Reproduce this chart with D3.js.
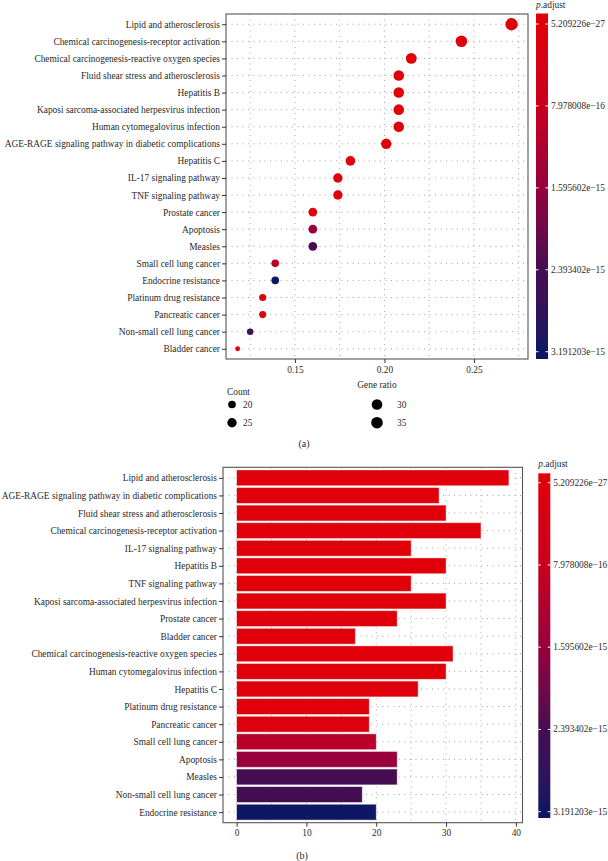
<!DOCTYPE html>
<html>
<head>
<meta charset="utf-8">
<script src="https://cdn.jsdelivr.net/npm/d3@7"></script>
<style>
  html, body { margin: 0; padding: 0; background: #fff; }
  svg { display: block; font-family: "Liberation Serif", "DejaVu Serif", serif; }
</style>
</head>
<body>
<div id="chart"></div>
<script>
// Terms in the bar-plot order (ascending p.adjust)
const terms = [
  "Lipid and atherosclerosis",
  "AGE-RAGE signaling pathway in diabetic complications",
  "Fluid shear stress and atherosclerosis",
  "Chemical carcinogenesis-receptor activation",
  "IL-17 signaling pathway",
  "Hepatitis B",
  "TNF signaling pathway",
  "Kaposi sarcoma-associated herpesvirus infection",
  "Prostate cancer",
  "Bladder cancer",
  "Chemical carcinogenesis-reactive oxygen species",
  "Human cytomegalovirus infection",
  "Hepatitis C",
  "Platinum drug resistance",
  "Pancreatic cancer",
  "Small cell lung cancer",
  "Apoptosis",
  "Measles",
  "Non-small cell lung cancer",
  "Endocrine resistance"
];
const counts = [39, 29, 30, 35, 25, 30, 25, 30, 23, 17, 31, 30, 26, 19, 19, 20, 23, 23, 18, 20];
const geneRatio = [0.271, 0.201, 0.208, 0.243, 0.174, 0.208, 0.174, 0.208, 0.160, 0.118,
                   0.215, 0.208, 0.181, 0.132, 0.132, 0.139, 0.160, 0.160, 0.125, 0.139];
const pAdjust = [5.209226e-27, 2.1e-22, 4.5e-22, 1.2e-21, 3.0e-20, 8.0e-20, 1.5e-19, 3.6e-19,
                 1.1e-18, 2.4e-18, 3.9e-18, 6.2e-18, 1.9e-17, 4.6e-17, 9.3e-17,
                 1.05e-15, 1.53e-15, 2.38e-15, 2.42e-15, 3.191203e-15];

const pTicks      = [5.209226e-27, 7.978008e-16, 1.595602e-15, 2.393402e-15, 3.191203e-15];
const pTickLabels = ["5.209226e\u221227", "7.978008e\u221216", "1.595602e\u221215", "2.393402e\u221215", "3.191203e\u221215"];
const ratioTicks  = [0.15, 0.20, 0.25];
const ratioMinor  = [0.125, 0.175, 0.225, 0.275];
const countTicks  = [0, 10, 20, 30, 40];
const countMinor  = [5, 15, 25, 35];
const sizeLegend  = [20, 25, 30, 35];

const rows = terms.map((t, i) => ({ term: t, count: counts[i], ratio: geneRatio[i], p: pAdjust[i] }));
// dot plot: ordered by gene ratio (stable)
const dotRows = rows.slice().sort((a, b) => d3.descending(a.ratio, b.ratio));

const W = 608, H = 861;
const GRID = "#9a9a9a";
const FRAME = "#555";
const TXT = "#2a2a2a";
const FS = 9.4;

const svg = d3.select("#chart").append("svg")
  .attr("width", W).attr("height", H);

// red -> crimson -> purple -> navy, stops at the colourbar ticks
const color = d3.scaleLinear()
  .domain(pTicks)
  .range(["#e0000a", "#c8001e", "#96003e", "#450d52", "#0d1763"])
  .interpolate(d3.interpolateLab);

// size: ggplot-like area scale (range 3..8 on sqrt of rescaled count)
const cMin = d3.min(counts), cMax = d3.max(counts);
const sizeNorm = d3.scaleLinear().domain([cMin, cMax]).range([0, 1]);
const rScale = d3.scaleLinear().domain([0, 1]).range([2.46, 6.15]);
const radius = v => rScale(Math.sqrt(Math.max(0, sizeNorm(v))));

function styleAxis(a) {
  a.attr("font-family", null).attr("font-size", null);
  a.select(".domain").remove();
  a.selectAll("line").attr("stroke", "#333");
  a.selectAll("text").attr("font-size", FS).attr("fill", TXT);
}

function colorbar(g, x0, top, bottom, tickTop, tickBottom, id) {
  const cy = d3.scaleLinear().domain([pTicks[0], pTicks[4]]).range([tickTop, tickBottom]);
  const grad = svg.append("defs").append("linearGradient")
    .attr("id", id).attr("gradientUnits", "userSpaceOnUse")
    .attr("x1", 0).attr("x2", 0).attr("y1", tickTop).attr("y2", tickBottom);
  d3.range(0, 1.0001, 0.05).forEach(t => {
    grad.append("stop").attr("offset", t)
      .attr("stop-color", color(pTicks[0] + t * (pTicks[4] - pTicks[0])));
  });
  const bw = 12;
  g.append("rect").attr("x", x0).attr("y", top).attr("width", bw).attr("height", bottom - top)
    .attr("fill", `url(#${id})`);
  pTicks.forEach((v, i) => {
    const y = cy(v);
    g.append("line").attr("x1", x0).attr("x2", x0 + 2.5).attr("y1", y).attr("y2", y)
      .attr("stroke", "#fff").attr("stroke-width", 1);
    g.append("line").attr("x1", x0 + bw - 2.5).attr("x2", x0 + bw).attr("y1", y).attr("y2", y)
      .attr("stroke", "#fff").attr("stroke-width", 1);
    g.append("text").attr("x", x0 + bw + 3).attr("y", y + 3)
      .attr("font-size", FS).attr("fill", TXT).text(pTickLabels[i]);
  });
  const title = g.append("text").attr("x", x0).attr("y", top - 6)
    .attr("font-size", FS).attr("fill", TXT);
  title.append("tspan").attr("font-style", "italic").text("p");
  title.append("tspan").text(".adjust");
}

// ── (a) dot plot ─────────────────────────────────────────────
{
  const L = 226, R = 528, T = 14, B = 359;
  const x = d3.scaleLinear().domain([0.1115, 0.2802]).range([L, R]);
  const y = d3.scalePoint().domain(dotRows.map(d => d.term)).range([T, B]).padding(0.6);
  const g = svg.append("g");

  // grid
  ratioTicks.concat(ratioMinor).forEach(v => {
    g.append("line").attr("x1", x(v)).attr("x2", x(v)).attr("y1", T).attr("y2", B)
      .attr("stroke", GRID).attr("stroke-width", 0.9).attr("stroke-dasharray", "1 4.5");
  });
  dotRows.forEach(d => {
    g.append("line").attr("x1", L).attr("x2", R).attr("y1", y(d.term)).attr("y2", y(d.term))
      .attr("stroke", GRID).attr("stroke-width", 0.9).attr("stroke-dasharray", "1 4.5");
  });

  g.selectAll("circle.dot").data(dotRows).join("circle")
    .attr("class", "dot")
    .attr("cx", d => x(d.ratio)).attr("cy", d => y(d.term))
    .attr("r", d => radius(d.count))
    .attr("fill", d => color(d.p));

  g.append("rect").attr("x", L).attr("y", T).attr("width", R - L).attr("height", B - T)
    .attr("fill", "none").attr("stroke", FRAME).attr("stroke-width", 1.1);

  // y axis
  const ya = g.append("g").attr("transform", `translate(${L},0)`)
    .call(d3.axisLeft(y).tickSize(4).tickPadding(2));
  styleAxis(ya);

  // x axis
  const xa = g.append("g").attr("transform", `translate(0,${B})`)
    .call(d3.axisBottom(x).tickValues(ratioTicks).tickFormat(d3.format(".2f")).tickSize(4).tickPadding(3));
  styleAxis(xa);

  g.append("text").attr("x", (L + R) / 2).attr("y", 388).attr("text-anchor", "middle")
    .attr("font-size", FS).attr("fill", TXT).text("Gene ratio");

  colorbar(g, 536, 13.5, 359, 24, 351.7, "gradA");

  // size legend
  g.append("text").attr("x", 227).attr("y", 395).attr("font-size", FS).attr("fill", TXT).text("Count");
  sizeLegend.forEach((v, i) => {
    const col = Math.floor(i / 2), row = i % 2;
    const cx = 232 + col * 145, cy = 404.5 + row * 18.2;
    g.append("circle").attr("cx", cx).attr("cy", cy).attr("r", radius(v)).attr("fill", "#000");
    g.append("text").attr("x", cx + 11 + col * 9).attr("y", cy + 3).attr("font-size", FS)
      .attr("fill", TXT).text(v);
  });

  g.append("text").attr("x", 304).attr("y", 447).attr("text-anchor", "middle")
    .attr("font-size", 10).attr("fill", TXT).text("(a)");
}

// ── (b) bar plot ─────────────────────────────────────────────
{
  const L = 223, R = 522.5, T = 467.3, B = 822.7;
  const x = d3.scaleLinear().domain([-1.95, 40.95]).range([L, R]);
  const y = d3.scalePoint().domain(terms).range([T, B]).padding(0.6);
  const bh = y.step() * 0.9;
  const g = svg.append("g");

  countTicks.concat(countMinor).forEach(v => {
    g.append("line").attr("x1", x(v)).attr("x2", x(v)).attr("y1", T).attr("y2", B)
      .attr("stroke", GRID).attr("stroke-width", 0.9).attr("stroke-dasharray", "1 4.5");
  });
  terms.forEach(t => {
    g.append("line").attr("x1", L).attr("x2", R).attr("y1", y(t)).attr("y2", y(t))
      .attr("stroke", GRID).attr("stroke-width", 0.9).attr("stroke-dasharray", "1 4.5");
  });

  g.selectAll("rect.bar").data(rows).join("rect")
    .attr("class", "bar")
    .attr("x", x(0)).attr("y", d => y(d.term) - bh / 2)
    .attr("width", d => x(d.count) - x(0)).attr("height", bh)
    .attr("fill", d => color(d.p))
    .attr("stroke", "rgba(255,255,255,0.55)").attr("stroke-width", 0.8);

  g.append("rect").attr("x", L).attr("y", T).attr("width", R - L).attr("height", B - T)
    .attr("fill", "none").attr("stroke", FRAME).attr("stroke-width", 1.1);

  const ya = g.append("g").attr("transform", `translate(${L},0)`)
    .call(d3.axisLeft(y).tickSize(4).tickPadding(2));
  styleAxis(ya);

  const xa = g.append("g").attr("transform", `translate(0,${B})`)
    .call(d3.axisBottom(x).tickValues(countTicks).tickSize(4).tickPadding(3));
  styleAxis(xa);

  colorbar(g, 538.3, 473.3, 818, 482.7, 811.7, "gradB");

  g.append("text").attr("x", 302).attr("y", 859).attr("text-anchor", "middle")
    .attr("font-size", 10).attr("fill", TXT).text("(b)");
}
</script>
</body>
</html>
